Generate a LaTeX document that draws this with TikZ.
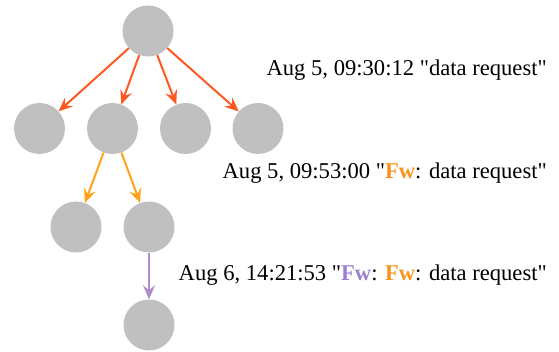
\documentclass[tikz,border=0pt]{standalone}
\usepackage{fontspec}
\setmainfont{Liberation Serif}
\usetikzlibrary{arrows.meta}
\definecolor{nodegray}{RGB}{192,192,192}
\definecolor{firstred}{RGB}{255,87,34}
\definecolor{fworange}{RGB}{255,162,26}
\definecolor{fwpurple}{RGB}{176,140,204}
\definecolor{txtorange}{RGB}{247,148,29}
\definecolor{txtpurple}{RGB}{155,127,208}

\begin{document}
\begin{tikzpicture}[x=1pt,y=-1pt,
	peer/.style={circle,fill=nodegray,minimum size=51pt,inner sep=0pt},
	hop/.style={line width=2pt,-{Stealth[length=14pt,width=12pt,inset=5pt]}},
	stamp/.style={anchor=base east,inner sep=0pt,font=\fontsize{22.6}{24}\selectfont}]
	\useasboundingbox (0,0) rectangle (559,352);
	\node[peer] (root) at (148,31) {};
	\node[peer] (a) at (39.5,128.5) {};
	\node[peer] (b) at (112.5,128.5) {};
	\node[peer] (c) at (185.5,128.5) {};
	\node[peer] (d) at (258,128.5) {};
	\node[peer] (ba) at (76,227) {};
	\node[peer] (bb) at (149,227) {};
	\node[peer] (bbb) at (149,325) {};
	
	\draw[hop,firstred] (root) edge (a) (root) edge (b) (root) edge (c) (root) edge (d);
	\draw[hop,fworange] (b) edge (ba) (b) edge (bb);
	\draw[hop,fwpurple] (bb) edge (bbb);
	
	\node[stamp] (t1) at (547,76) {Aug 5, 09:30:12 \textquotedbl data request\textquotedbl};
	\node[stamp] (t2) at (547,179) {Aug 5, 09:53:00 \textquotedbl\textbf{\color{txtorange}Fw}: data request\textquotedbl};
	\node[stamp] (t3) at (547,281) {Aug 6, 14:21:53 \textquotedbl\textbf{\color{txtpurple}Fw}: \textbf{\color{txtorange}Fw}: data request\textquotedbl};
\end{tikzpicture}
\end{document}
